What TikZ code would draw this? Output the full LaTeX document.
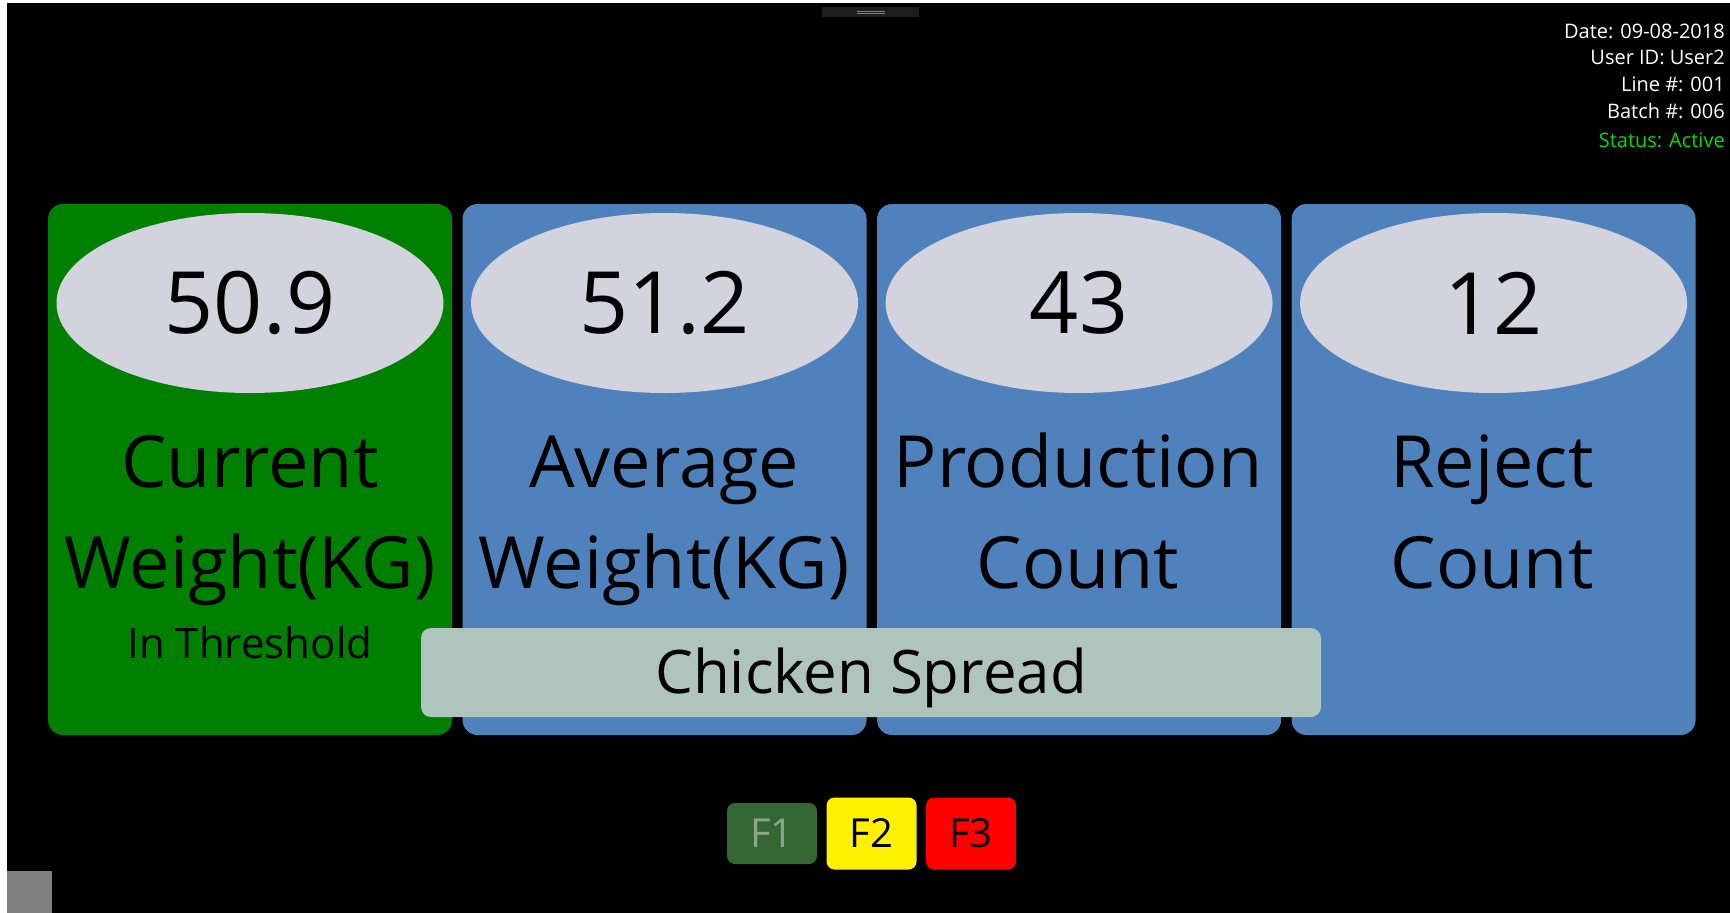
\documentclass[tikz,border=0pt]{standalone}
\usepackage{fontspec}
\setmainfont{Open Sans}
\usetikzlibrary{positioning,shapes.geometric}
\definecolor{okgreen}{HTML}{008000}
\definecolor{tileblue}{HTML}{4F81BD}
\definecolor{ovalgray}{HTML}{D3D3DD}
\definecolor{prodgray}{HTML}{B0C4BE}
\definecolor{gripgray}{HTML}{1E1E1E}
\definecolor{f1green}{HTML}{336633}
\definecolor{f1text}{HTML}{8AA58A}
\definecolor{activegreen}{HTML}{00E000}
\definecolor{cornergray}{HTML}{808080}

\begin{document}
\begin{tikzpicture}[x=0.75pt,y=-0.75pt,
    card/.style={rectangle, rounded corners=11.25pt, minimum width=303pt, minimum height=398.25pt, inner sep=0pt},
    oval/.style={ellipse, fill=ovalgray, minimum width=290.25pt, minimum height=135pt, inner sep=0pt, font=\fontsize{64.5}{70}\selectfont},
    lbl/.style={anchor=base, inner sep=0pt, font=\fontsize{54}{60}\selectfont},
    sublbl/.style={anchor=base, inner sep=0pt, font=\fontsize{31.5}{36}\selectfont},
    info/.style={anchor=base east, inner sep=0pt, text=white, font=\fontsize{15}{18}\selectfont},
    prodbox/.style={rectangle, fill=prodgray, rounded corners=7.5pt, minimum width=675pt, minimum height=66.75pt, inner sep=0pt, text height=32pt, text depth=0pt, font=\fontsize{45}{50}\selectfont},
    fkey/.style={rectangle, rounded corners=6pt, minimum width=67.5pt, minimum height=54pt, inner sep=0pt, text height=21.4pt, text depth=0pt, font=\fontsize{30}{34}\selectfont}]
\useasboundingbox (0,0) rectangle (1730,913);
\fill[white] (0,0) rectangle (1730,913);
\fill[black] (7,3) rectangle (1730,913);

% grip at the top
\fill[gripgray] (822,7) rectangle (919,17);
\draw[gray, line width=0.6pt] (857,11.7) -- (885,11.7) (857,13.3) -- (885,13.3);

% session info
\node[info] (date) at (1725,39) {Date: 09-08-2018};
\node[info] (user) at (1725,65) {User ID: User2};
\node[info] (line) at (1725,92) {Line \#: 001};
\node[info] (batch) at (1725,119) {Batch \#: 006};
\node[info, text=activegreen] (status) at (1725,147) {Status: Active};

% tiles
\node[card, fill=okgreen] (c1) at (250,469.5) {};
\node[card, fill=tileblue, right=7.5pt of c1] (c2) {};
\node[card, fill=tileblue, right=7.5pt of c2] (c3) {};
\node[card, fill=tileblue, right=7.5pt of c3] (c4) {};

\node[oval, below=6.75pt of c1.north] (v1) {50.9};
\node[oval, below=6.75pt of c2.north] (v2) {51.2};
\node[oval, below=6.75pt of c3.north] (v3) {43};
\node[oval, below=6.75pt of c4.north] (v4) {12};

\node[lbl] (cur) at (250,487) {Current};
\node[lbl] (curw) at (250,588) {Weight(KG)};
\node[sublbl] (thr) at (250,658) {In Threshold};
\node[lbl] (avg) at (664,487) {Average};
\node[lbl] (avgw) at (664,588) {Weight(KG)};
\node[lbl] (prd) at (1078,487) {Production};
\node[lbl] (prdc) at (1078,588) {Count};
\node[lbl] (rej) at (1492,487) {Reject};
\node[lbl] (rejc) at (1492,588) {Count};

\node[prodbox] (prod) at (871,672.5) {Chicken Spread};

% function keys
\node[fkey, fill=f1green, text=f1text, minimum height=45.75pt] (f1) at (772,833.5) {F1};
\node[fkey, fill=yellow, right=6.75pt of f1] (f2) {F2};
\node[fkey, fill=red, right=6.75pt of f2] (f3) {F3};

\fill[cornergray] (7,871) rectangle (52,913);
\end{tikzpicture}
\end{document}
